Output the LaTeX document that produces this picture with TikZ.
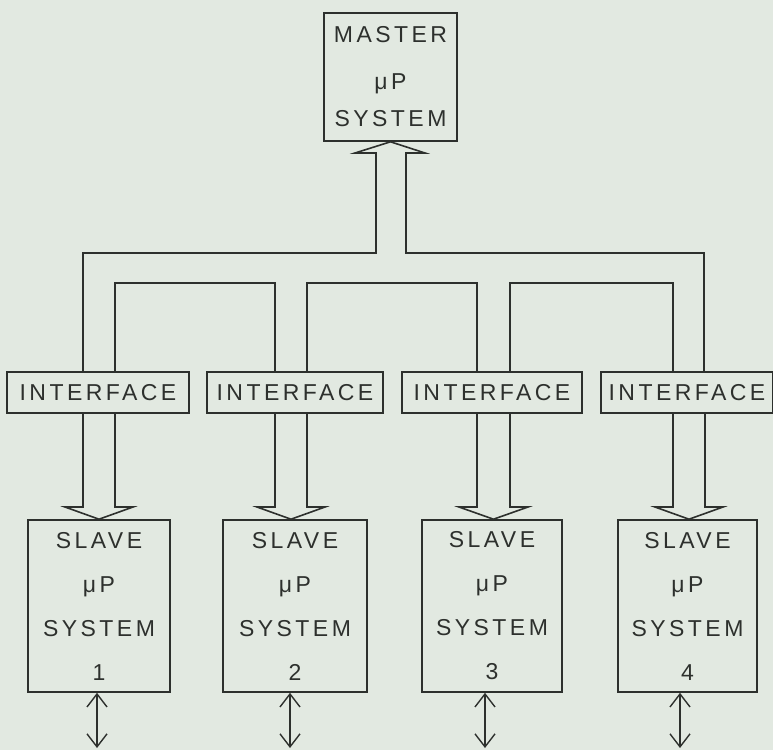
\documentclass[tikz,border=0pt]{standalone}
\usepackage{fontspec}
\newfontfamily\lab[LetterSpace=15]{Liberation Sans}
\usetikzlibrary{arrows.meta,calc}
\definecolor{bg}{RGB}{226,233,225}
\definecolor{ink}{RGB}{45,48,45}
\begin{document}
\begin{tikzpicture}[x=1pt,y=-1pt,
  line width=1.6pt, draw=ink, ink,
  box/.style={draw=ink, line width=1.6pt, rectangle, inner sep=0pt, align=center,
    font={\lab\fontsize{23}{44}\selectfont}, text=ink},
  bus/.style={draw=ink, line width=1.6pt, line join=miter},
  bidir/.style={draw=ink, line width=1.4pt, {Straight Barb[length=13pt,width=20pt]}-{Straight Barb[length=13pt,width=20pt]}}]
\fill[bg] (0,0) rectangle (773,750);
\useasboundingbox (0,0) rectangle (773,750);
% boxes
\node[box, minimum width=133pt, minimum height=128pt, font={\lab\fontsize{23}{42}\selectfont}] (master) at (390.5,77) {MASTER\\[5pt]μP\\[-5pt]SYSTEM};
\node[box, minimum width=182pt, minimum height=41pt] (i1) at (98,392.5) {INTERFACE};
\node[box, minimum width=176pt, minimum height=41pt] (i2) at (295,392.5) {INTERFACE};
\node[box, minimum width=180pt, minimum height=41pt] (i3) at (492,392.5) {INTERFACE};
\node[box, minimum width=172pt, minimum height=41pt] (i4) at (687,392.5) {INTERFACE};
\node[box, minimum width=142pt, minimum height=172pt] (s1) at (99,606) {SLAVE\\μP\\SYSTEM\\1};
\node[box, minimum width=144pt, minimum height=172pt] (s2) at (295,606) {SLAVE\\μP\\SYSTEM\\2};
\node[box, minimum width=140pt, minimum height=172pt] (s3) at (492,606) {SLAVE\\μP\\SYSTEM\\3};
\node[box, minimum width=139pt, minimum height=172pt] (s4) at (687.5,606) {SLAVE\\μP\\SYSTEM\\4};
% bus from interfaces to master
\draw[bus] (83,0 |- i1.north) |- (376,253) -- (376,153) -- (355,153) -- (master.south)
  -- (425,153) -- (406,153) -- (406,253) -| (704,0 |- i4.north);
\draw[bus] (115,0 |- i1.north) |- (275,283) -- (275,0 |- i2.north);
\draw[bus] (307,0 |- i2.north) |- (477,283) -- (477,0 |- i3.north);
\draw[bus] (510,0 |- i3.north) |- (673,283) -- (673,0 |- i4.north);
% interfaces to slaves (hollow arrows)
\foreach \i/\l/\r/\c in {1/83/115/99, 2/275/307/291, 3/477/510/493.5, 4/673/705/689}{
  \draw[bus] (\l,0 |- i\i.south) -- (\l,507) -- (\l-18,507) -- (\c,0 |- s\i.north)
    -- (\r+18,507) -- (\r,507) -- (\r,0 |- i\i.south);
}
% bidirectional I/O arrows
\foreach \i/\x in {1/97, 2/290, 3/485, 4/680}{
  \coordinate (o\i) at (\x,748);
  \draw[bidir] (\x,0 |- s\i.south) -- (o\i);
}
\end{tikzpicture}
\end{document}
